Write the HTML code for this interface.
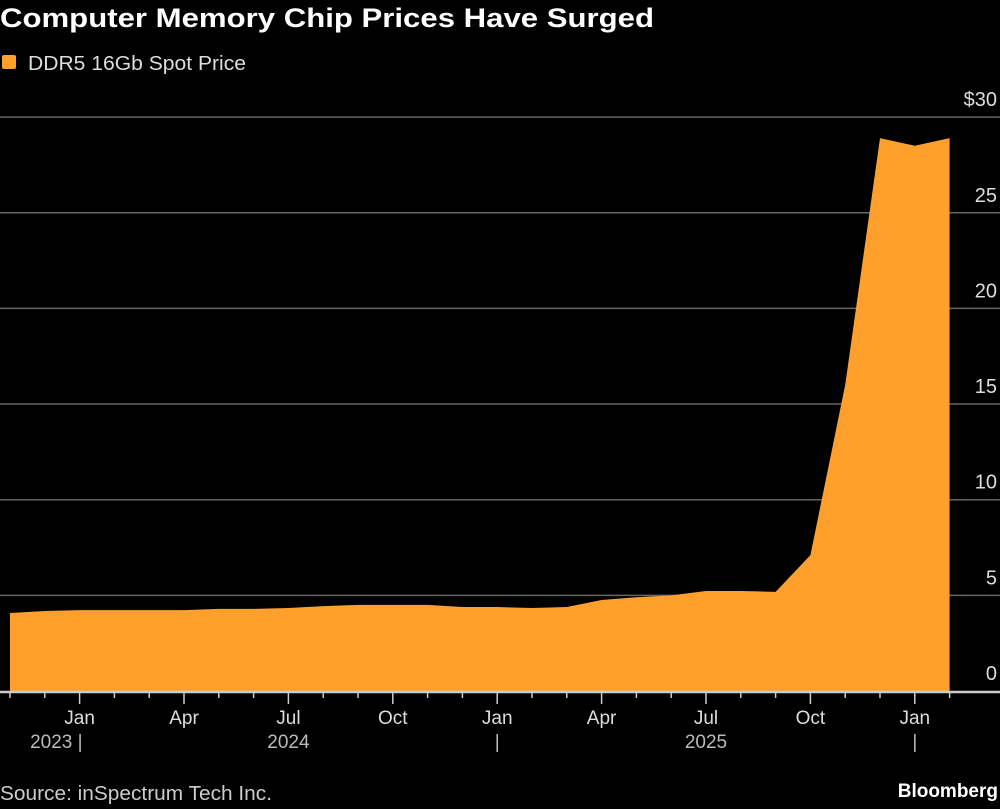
<!DOCTYPE html>
<html><head><meta charset="utf-8"><style>
body{margin:0;background:#000;width:1000px;height:804px;overflow:hidden;font-family:"Liberation Sans",sans-serif;color:#fff}
</style></head><body>
<svg width="1000" height="804" id="c">
<text x="0" y="27" font-size="27" font-weight="bold" fill="#fff" textLength="654" lengthAdjust="spacingAndGlyphs">Computer Memory Chip Prices Have Surged</text>
<rect x="2" y="55" width="14" height="14" rx="2" fill="#ffa02c"/>
<text x="28" y="70" font-size="20" fill="#ddd" textLength="218" lengthAdjust="spacingAndGlyphs">DDR5 16Gb Spot Price</text>
<text x="0" y="800" font-size="20" fill="#ccc" textLength="272" lengthAdjust="spacingAndGlyphs">Source: inSpectrum Tech Inc.</text>
<text x="998" y="797" font-size="19" font-weight="bold" fill="#fff" text-anchor="end">Bloomberg</text>
<g id="grid"></g><g id="area"></g><g id="axis"></g>
</svg>
<script>
const values=[4.08,4.18,4.23,4.23,4.23,4.23,4.29,4.29,4.34,4.44,4.5,4.5,4.5,4.39,4.39,4.34,4.39,4.76,4.9,5.0,5.23,5.23,5.18,7.1,16.0,28.9,28.5,28.9];
const yTicks=[0,5,10,15,20,25,30];
const monthLabels=[[2,"Jan"],[5,"Apr"],[8,"Jul"],[11,"Oct"],[14,"Jan"],[17,"Apr"],[20,"Jul"],[23,"Oct"],[26,"Jan"]];
const yearLabels=[[2,"2023 |"],[8,"2024"],[14,"|"],[20,"2025"],[26,"|"]];
const NS="http://www.w3.org/2000/svg";
const x=i=>10+i*34.8, y=v=>691-v*19.13;
function mk(t,a,p){const e=document.createElementNS(NS,t);for(const k in a)e.setAttribute(k,a[k]);p.appendChild(e);return e;}
const g=document.getElementById('grid'),ar=document.getElementById('area'),ax=document.getElementById('axis');
yTicks.forEach(v=>{
  if(v>0){const l=mk('line',{x1:0,x2:1000,y1:y(v),y2:y(v),stroke:'#666','stroke-width':1.5},g);
  
  }
  const t=mk('text',{x:997,y:y(v)-11,'font-size':20,fill:'#ddd','text-anchor':'end'},g);
  t.textContent=(v==30?'$':'')+v;
  
  
});
let d='M'+x(0)+','+y(0);
values.forEach((v,i)=>d+=' L'+x(i)+','+y(v));
d+=' L'+x(values.length-1)+','+y(0)+' Z';
const p=mk('path',{d:d,fill:'#ffa02c'},ar);


const al=mk('line',{x1:0,x2:1000,y1:692,y2:692,stroke:'#ccc','stroke-width':2.5},ax);


for(let i=0;i<28;i++){const q=(i-2)%3==0;
  const tk=mk('line',{x1:x(i),x2:x(i),y1:692,y2:q?704:698,stroke:'#ccc','stroke-width':1.5},ax);
  
  }
monthLabels.forEach(([i,s])=>{const t=mk('text',{x:x(i),y:724,'font-size':19,fill:'#ddd','text-anchor':'middle'},ax);t.textContent=s;
  
  });
yearLabels.forEach(([i,s])=>{const t=mk('text',{x:s=="2023 |"?x(i)+3:x(i),y:748,'font-size':19,fill:'#bbb','text-anchor':s=="2023 |"?'end':'middle'},ax);t.textContent=s;
  
  });
</script>
</body></html>
